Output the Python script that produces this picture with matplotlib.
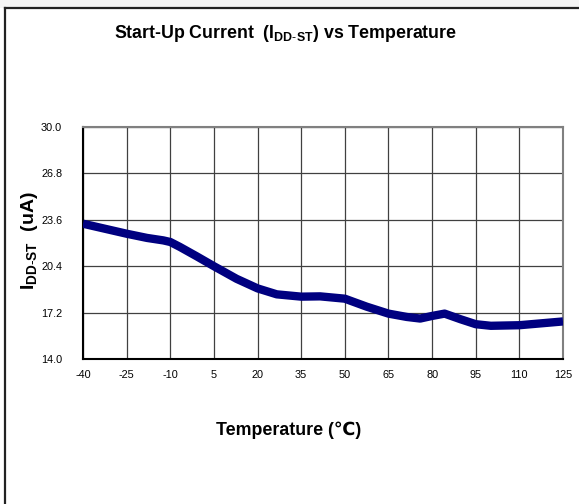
import matplotlib
matplotlib.use('Agg')
import matplotlib.pyplot as plt
from matplotlib.lines import Line2D
from matplotlib.patches import Rectangle

plt.rcParams['font.family'] = ['Liberation Sans', 'DejaVu Sans']
plt.rcParams['mathtext.fontset'] = 'custom'
plt.rcParams['mathtext.rm'] = 'Liberation Sans'
plt.rcParams['mathtext.bf'] = 'Liberation Sans:bold'

# Datos
temperature = [-40, -25, -18, -12.4, -10, -6.7, -0.9, 5, 12.8, 20, 26.6, 35, 41.5,
               50, 57.5, 65, 71.3, 75.9, 80, 84.3, 89.8, 95, 100.2, 110, 125]
current_ua = [23.33, 22.64, 22.35, 22.18, 22.07, 21.73, 21.08, 20.4, 19.53, 18.87, 18.46, 18.3, 18.32,
              18.16, 17.61, 17.13, 16.9, 16.79, 16.97, 17.13, 16.74, 16.4, 16.29, 16.33, 16.59]

x_ticks = [-40, -25, -10, 5, 20, 35, 50, 65, 80, 95, 110, 125]
y_ticks = [14.0, 17.2, 20.4, 23.6, 26.8, 30.0]

fig = plt.figure(figsize=(5.79, 5.04), dpi=100)
W, H = 579.0, 504.0

# marco exterior
fig.patches.append(Rectangle((0, 1 - 8 / H), 1, 8 / H, transform=fig.transFigure,
                             facecolor='#f4f4f4', edgecolor='none', zorder=0))
fig.lines.append(Line2D([5 / W, 5 / W], [0, 1 - 8 / H], transform=fig.transFigure,
                        color='#222222', linewidth=1.6))
fig.lines.append(Line2D([5 / W, 1], [1 - 8 / H, 1 - 8 / H], transform=fig.transFigure,
                        color='#222222', linewidth=1.6))

ax = fig.add_axes([83 / W, 1 - 359 / H, 480 / W, 232 / H])
ax.plot(temperature, current_ua, color='#000080', linewidth=6, solid_capstyle='butt',
        solid_joinstyle='round', zorder=3)

ax.set_xlim(-40, 125)
ax.set_ylim(14.0, 30.0)
ax.set_xticks(x_ticks)
ax.set_yticks(y_ticks)
ax.set_xticklabels([str(t) for t in x_ticks])
ax.set_yticklabels(['%.1f' % v for v in y_ticks])
ax.tick_params(length=0, labelsize=7.8)
ax.tick_params(axis='x', pad=8)
ax.tick_params(axis='y', pad=15)
ax.grid(True, color='#404040', linewidth=0.9)
ax.set_axisbelow(True)

for side in ['top', 'right']:
    ax.spines[side].set_color('#808080')
    ax.spines[side].set_linewidth(1.5)
for side in ['left', 'bottom']:
    ax.spines[side].set_color('black')
    ax.spines[side].set_linewidth(1.5)

fig.text(285 / W, 1 - 33 / H, r'Start-Up Current  ($\mathbf{I_{DD\text{-}ST}}$) vs Temperature',
         ha='center', va='center', fontsize=12.8, fontweight='bold')
fig.text(30 / W, 1 - 241 / H, r'$\mathbf{I_{DD\text{-}ST}}$  (uA)', rotation=90,
         ha='center', va='center', fontsize=14, fontweight='bold')
fig.text(289 / W, 1 - 430 / H, 'Temperature (℃)', ha='center', va='center',
         fontsize=12.8, fontweight='bold')

fig.savefig('out.png', dpi=100)
